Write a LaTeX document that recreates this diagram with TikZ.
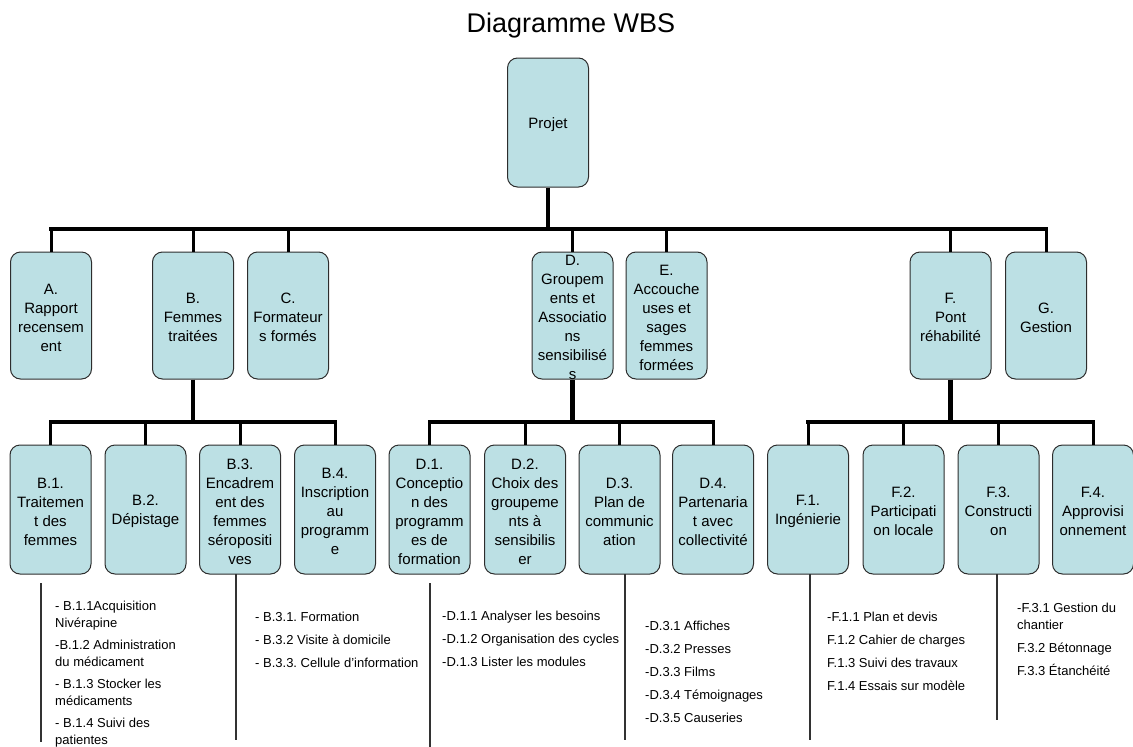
\documentclass[tikz,border=0pt]{standalone}
\usepackage{fontspec}
\setmainfont{Liberation Sans}
\frenchspacing
\definecolor{boxfill}{RGB}{188,224,228}
\definecolor{boxline}{RGB}{45,45,45}
\definecolor{rulegray}{RGB}{50,50,50}
\tikzset{
  wbsbox/.style={draw=boxline, fill=boxfill, line width=1pt, rounded corners=10pt,
                 minimum width=81pt, inner sep=0pt},
  toplevel/.style={wbsbox, minimum height=129pt},
  levelone/.style={wbsbox, minimum height=127pt},
  leveltwo/.style={wbsbox, minimum height=129pt},
  boxtext/.style={align=center, inner sep=0pt, yshift=-2pt,
                  font=\fontsize{15}{19}\selectfont},
  stem/.style={line width=4.5pt},
  bus/.style={line width=3.5pt, line cap=rect},
  drop/.style={line width=3pt},
  sepline/.style={draw=rulegray, line width=1.1pt},
  tasklist/.style={anchor=north west, align=left, inner sep=0pt,
                   font=\fontsize{13}{17}\selectfont},
  heading/.style={anchor=base, inner sep=0pt, font=\fontsize{27}{32}\selectfont}
}
\begin{document}
\begin{tikzpicture}[x=1pt,y=-1pt]
\useasboundingbox (0,0) rectangle (1133,747);

% title
\node[heading] (title) at (571,32) {Diagramme WBS};

% root
\node[toplevel, label={[boxtext]center:Projet}] (P) at (548,122.5) {};

% first level
\node[levelone, label={[boxtext]center:{A.\\Rapport\\recensem\\ent}}] (A) at (51,315.5) {};
\node[levelone, label={[boxtext]center:{B.\\Femmes\\traitées}}] (B) at (193,315.5) {};
\node[levelone, label={[boxtext]center:{C.\\Formateur\\s formés}}] (C) at (288,315.5) {};
\node[levelone, label={[boxtext]center:{D.\\Groupem\\ents et\\Associatio\\ns\\sensibilisé\\s}}] (D) at (572.5,315.5) {};
\node[levelone, label={[boxtext]center:{E.\\Accouche\\uses et\\sages\\femmes\\formées}}] (E) at (666.5,315.5) {};
\node[levelone, label={[boxtext]center:{F.\\Pont\\réhabilité}}] (F) at (950.5,315.5) {};
\node[levelone, label={[boxtext]center:{G.\\Gestion}}] (G) at (1046,315.5) {};

% second level
\node[leveltwo, label={[boxtext]center:{B.1.\\Traitemen\\t des\\femmes}}] (B1) at (50.5,509.5) {};
\node[leveltwo, label={[boxtext]center:{B.2.\\Dépistage}}] (B2) at (145.5,509.5) {};
\node[leveltwo, label={[boxtext]center:{B.3.\\Encadrem\\ent des\\femmes\\séropositi\\ves}}] (B3) at (240,509.5) {};
\node[leveltwo, label={[boxtext]center:{B.4.\\Inscription\\au\\programm\\e}}] (B4) at (335,509.5) {};
\node[leveltwo, label={[boxtext]center:{D.1.\\Conceptio\\n des\\programm\\es de\\formation}}] (D1) at (429.5,509.5) {};
\node[leveltwo, label={[boxtext]center:{D.2.\\Choix des\\groupeme\\nts à\\sensibilis\\er}}] (D2) at (525,509.5) {};
\node[leveltwo, label={[boxtext]center:{D.3.\\Plan de\\communic\\ation}}] (D3) at (619.5,509.5) {};
\node[leveltwo, label={[boxtext]center:{D.4.\\Partenaria\\t avec\\collectivité}}] (D4) at (713,509.5) {};
\node[leveltwo, label={[boxtext]center:{F.1.\\Ingénierie}}] (F1) at (808,509.5) {};
\node[leveltwo, label={[boxtext]center:{F.2.\\Participati\\on locale}}] (F2) at (903.5,509.5) {};
\node[leveltwo, label={[boxtext]center:{F.3.\\Constructi\\on}}] (F3) at (998.5,509.5) {};
\node[leveltwo, label={[boxtext]center:{F.4.\\Approvisi\\onnement}}] (F4) at (1093,509.5) {};

% connectors: root to first level
\coordinate (busA) at (0,229);
\draw[stem] (P.south) -- (P |- busA);
\draw[bus] (A |- busA) -- (G |- busA);
\foreach \n in {A,B,C,D,E,F,G} \draw[drop] (\n |- busA) -- (\n.north);

% connectors: first level to second level
\coordinate (busB) at (0,422);
\foreach \p/\first/\last/\kids in {B/B1/B4/{B1,B2,B3,B4}, D/D1/D4/{D1,D2,D3,D4}, F/F1/F4/{F1,F2,F3,F4}}{
  \draw[stem] (\p.south) -- (\p |- busB);
  \draw[bus] (\first |- busB) -- (\last |- busB);
  \foreach \k in \kids \draw[drop] (\k |- busB) -- (\k.north);
}

% separators beside the task lists
\draw[sepline] (41,583) -- (41,742);
\draw[sepline] (236,574) -- (236,740);
\draw[sepline] (430,583) -- (430,747);
\draw[sepline] (625,574) -- (625,740);
\draw[sepline] (810,574) -- (810,740);
\draw[sepline] (997,574) -- (997,720);

% task lists
\node[tasklist] (tB1) at (55,601) {- B.1.1Acquisition\\Nivérapine\\[5pt]-B.1.2 Administration\\du médicament\\[5pt]- B.1.3 Stocker les\\médicaments\\[5pt]- B.1.4 Suivi des\\patientes};
\node[tasklist] (tB3) at (255,612) {- B.3.1. Formation\\[6pt]- B.3.2 Visite à domicile\\[6pt]- B.3.3. Cellule d’information};
\node[tasklist] (tD1) at (442,611) {-D.1.1 Analyser les besoins\\[6pt]-D.1.2 Organisation des cycles\\[6pt]-D.1.3 Lister les modules};
\node[tasklist] (tD3) at (645,621) {-D.3.1 Affiches\\[6pt]-D.3.2 Presses\\[6pt]-D.3.3 Films\\[6pt]-D.3.4 Témoignages\\[6pt]-D.3.5 Causeries};
\node[tasklist] (tF1) at (827,612) {-F.1.1 Plan et devis\\[6pt]F.1.2 Cahier de charges\\[6pt]F.1.3 Suivi des travaux\\[6pt]F.1.4 Essais sur modèle};
\node[tasklist] (tF3) at (1017,603) {-F.3.1 Gestion du\\chantier\\[6pt]F.3.2 Bétonnage\\[6pt]F.3.3 Étanchéité};
\end{tikzpicture}
\end{document}
